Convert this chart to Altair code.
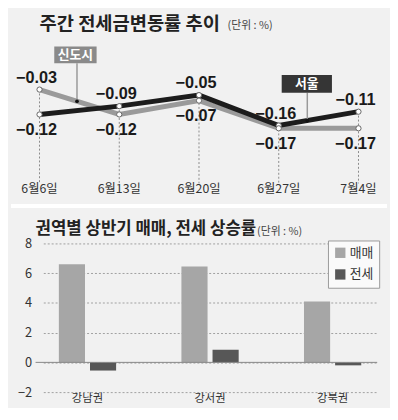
import altair as alt
import pandas as pd
import numpy as np

# ---------------- data ----------------
dates = ["6월6일", "6월13일", "6월20일", "6월27일", "7월4일"]
seoul = [-0.12, -0.09, -0.05, -0.16, -0.11]
newtown = [-0.03, -0.12, -0.07, -0.17, -0.17]
line_series = ["신도시", "서울"]

regions = ["강남권", "강서권", "강북권"]
sale = [6.6, 6.45, 4.1]
jeonse = [-0.55, 0.85, -0.2]
bar_series = ["매매", "전세"]
y_ticks = [-2, 0, 2, 4, 6, 8]

titles = ["주간  전세금변동률  추이", "권역별 상반기 매매, 전세 상승률"]
unit_label = "(단위 : %)"

# ---------------- styles ----------------
BG = "#f1f1f1"
KR = "Noto Sans CJK KR"
NUM = "Liberation Sans"
NARROW = "Liberation Sans Narrow, Noto Sans CJK KR"

# ---------------- top chart ----------------
rows = []
for i, d in enumerate(dates):
    for name, vals, other in (("서울", seoul, newtown), ("신도시", newtown, seoul)):
        v, o = vals[i], other[i]
        rows.append(dict(i=i, date=d, series=name, value=v,
                         label=f"{v:.2f}".replace("-", "\u2212"),
                         pos="above" if v >= o else "below"))
line_df = pd.DataFrame(rows)
date_df = pd.DataFrame(dict(i=list(range(len(dates))), date=dates,
                            top=[max(a, b) for a, b in zip(seoul, newtown)]))

XS = alt.Scale(domain=[-0.0494, 4.2346])
YS = alt.Scale(domain=[-0.4581, 0.2501])


def X(f):
    return alt.X(f, scale=XS, axis=None)


def Y(f):
    return alt.Y(f, scale=YS, axis=None)


vrules = alt.Chart(date_df).mark_rule(color="#8a8a8a", strokeWidth=1, strokeDash=[2, 2]).encode(
    x=X("i:Q"), y=Y("top:Q"), y2=alt.value(174))

line_gray = alt.Chart(line_df).transform_filter("datum.series == '신도시'").mark_line(
    color="#9a9a9a", strokeWidth=5).encode(x=X("i:Q"), y=Y("value:Q"))
line_black = alt.Chart(line_df).transform_filter("datum.series == '서울'").mark_line(
    color="#1c1c1c", strokeWidth=5).encode(x=X("i:Q"), y=Y("value:Q"))

pts = alt.Chart(line_df).mark_point(shape="circle", filled=True, fill="white", stroke="#666",
                                    strokeWidth=1, size=28, opacity=1).encode(
    x=X("i:Q"), y=Y("value:Q"))

lab_above = alt.Chart(line_df).transform_filter("datum.pos == 'above'").mark_text(
    dy=-12, dx=-3, fontSize=16.5, fontWeight="bold", font=NUM, color="#1a1a1a").encode(
    x=X("i:Q"), y=Y("value:Q"), text="label:N")
lab_below = alt.Chart(line_df).transform_filter("datum.pos == 'below'").mark_text(
    dy=16, dx=-3, fontSize=16.5, fontWeight="bold", font=NUM, color="#1a1a1a").encode(
    x=X("i:Q"), y=Y("value:Q"), text="label:N")

date_lab = alt.Chart(date_df).mark_text(fontSize=12.5, font=NARROW, color="#333").encode(
    x=X("i:Q"), y=alt.value(180), text="date:N")

# callouts: name boxes linked to their line
idx = np.arange(len(dates))
call = pd.DataFrame(dict(
    name=["신도시", "서울"],
    x0=[0.185, 3.037], x1=[0.716, 3.667], xl=[0.47, 3.358],
    ytop=[0.1255, 0.0223], ybot=[0.065, -0.0417],
))
call["yend"] = [float(np.interp(0.47, idx, newtown)), float(np.interp(3.358, idx, seoul))]
call["xm"] = (call.x0 + call.x1) / 2
call["ym"] = (call.ytop + call.ybot) / 2

c_rule = alt.Chart(call).mark_rule(color="#999", strokeWidth=1.5).encode(
    x=X("xl:Q"), y=Y("ybot:Q"), y2="yend:Q")
c_dot = alt.Chart(call).mark_circle(size=14, color="#111", opacity=1).encode(
    x=X("xl:Q"), y=Y("yend:Q"))
c_box1 = alt.Chart(call).transform_filter("datum.name == '신도시'").mark_rect(color="#8a8a8a").encode(
    x=X("x0:Q"), x2="x1:Q", y=Y("ytop:Q"), y2="ybot:Q")
c_box2 = alt.Chart(call).transform_filter("datum.name == '서울'").mark_rect(color="#353535").encode(
    x=X("x0:Q"), x2="x1:Q", y=Y("ytop:Q"), y2="ybot:Q")
c_txt = alt.Chart(call).mark_text(color="white", fontWeight="bold", fontSize=13, font=KR).encode(
    x=X("xm:Q"), y=Y("ym:Q"), text="name:N")

top_title = alt.Chart(pd.DataFrame(dict(t=[titles[0]]))).mark_text(
    align="left", baseline="middle", fontSize=19, fontWeight="bold", font=KR, color="#222").encode(
    x=alt.value(4), y=alt.value(12), text="t:N")
top_unit = alt.Chart(pd.DataFrame(dict(t=[unit_label]))).mark_text(
    align="left", baseline="middle", fontSize=11, font=KR, color="#444").encode(
    x=alt.value(195), y=alt.value(14), text="t:N")

band = alt.Chart(pd.DataFrame(dict(t=[0]))).mark_rule(color="white", strokeWidth=4).encode(
    x=alt.value(-25), x2=alt.value(357), y=alt.value(197))

top = alt.layer(vrules, line_gray, line_black, pts, lab_above, lab_below, date_lab,
                c_rule, c_box1, c_box2, c_txt, c_dot, top_title, top_unit, band).properties(
    width=347, height=199)

# ---------------- bottom chart ----------------
bar_df = pd.DataFrame(dict(
    region=regions * 2,
    series=[bar_series[0]] * 3 + [bar_series[1]] * 3,
    value=sale + jeonse,
))

y_axis = alt.Axis(values=y_ticks, title=None, domain=False, ticks=False, labelPadding=4,
                  labelOverlap=False, labelFlush=False,
                  grid=True, gridDash=[2, 2], gridColor="#a0a0a0", gridWidth=1,
                  labelFontSize=13, labelFont=NARROW, labelColor="#333")
y_scale = alt.Scale(domain=[-2, 8], nice=False)

bars = alt.Chart(bar_df).mark_bar().encode(
    x=alt.X("region:N", sort=regions,
            scale=alt.Scale(range=[7.85, 346.6], paddingInner=0.279, paddingOuter=0),
            axis=alt.Axis(title=None, labelAngle=0, domain=False, ticks=False, labelPadding=1,
                          labelFontSize=11.5, labelFont=NARROW, labelColor="#333")),
    xOffset=alt.XOffset("series:N", sort=bar_series,
                        scale=alt.Scale(paddingInner=0.16, paddingOuter=0.5)),
    y=alt.Y("value:Q", scale=y_scale, axis=y_axis),
    color=alt.Color("series:N", sort=bar_series,
                    scale=alt.Scale(domain=bar_series, range=["#a6a6a6", "#575757"]),
                    legend=alt.Legend(orient="none", legendX=297, legendY=-3, title=None,
                                      fillColor="#fafafa", strokeColor="#999", padding=6,
                                      symbolType="square", symbolSize=110, symbolStrokeWidth=0,
                                      labelFontSize=13, labelFont=KR, labelColor="#333",
                                      rowPadding=8, labelOffset=3)),
)

zero = alt.Chart(pd.DataFrame(dict(value=[0]))).mark_rule(color="#888", strokeWidth=1).encode(
    y=alt.Y("value:Q", scale=y_scale, axis=y_axis))

bot_title = alt.Chart(pd.DataFrame(dict(t=[titles[1]]))).mark_text(
    align="left", baseline="middle", fontSize=17, fontWeight="bold", font=KR, color="#222").encode(
    x=alt.value(0), y=alt.value(-15), text="t:N")
bot_unit = alt.Chart(pd.DataFrame(dict(t=[unit_label]))).mark_text(
    align="left", baseline="middle", fontSize=11, font=KR, color="#444").encode(
    x=alt.value(225), y=alt.value(-12), text="t:N")

bottom = alt.layer(bars, zero, bot_title, bot_unit).properties(width=347, height=151)

chart = alt.vconcat(top, bottom, spacing=36, bounds="flush").resolve_scale(
    color="independent").resolve_legend(color="independent").configure(
    background=BG, padding=0).configure_view(stroke="transparent").configure_legend(
    strokeColor="#999", fillColor="#fafafa")

chart.save("out.html", embed_options={"renderer": "svg", "actions": False})
